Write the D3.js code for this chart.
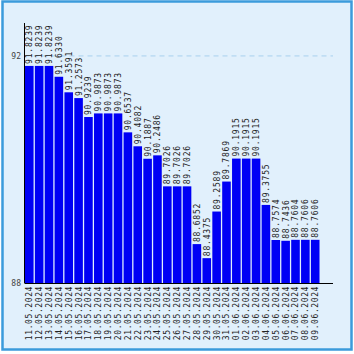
<!DOCTYPE html>
<html><head><meta charset="utf-8">
<script src="https://cdn.jsdelivr.net/npm/d3@7/dist/d3.min.js"></script>
<style>html,body{margin:0;padding:0;background:#fff;}svg{display:block;}</style>
</head><body>
<script>
const dates = ["11.05.2024","12.05.2024","13.05.2024","14.05.2024","15.05.2024","16.05.2024","17.05.2024","18.05.2024","19.05.2024","20.05.2024","21.05.2024","22.05.2024","23.05.2024","24.05.2024","25.05.2024","26.05.2024","27.05.2024","28.05.2024","29.05.2024","30.05.2024","31.05.2024","01.06.2024","02.06.2024","03.06.2024","04.06.2024","05.06.2024","06.06.2024","07.06.2024","08.06.2024","09.06.2024"];
const values = [91.8239,91.8239,91.8239,91.6330,91.3591,91.2573,90.9239,90.9873,90.9873,90.9873,90.6537,90.4082,90.1887,90.2486,89.7026,89.7026,89.7026,88.6852,88.4375,89.2589,89.7869,90.1915,90.1915,90.1915,89.3755,88.7574,88.7436,88.7604,88.7606,88.7606];
const yTicks = [88, 92];
const yDomain = [88, 92.58];

(function () {
const W = 354, H = 354;
const svg = d3.select("body").append("svg").attr("width", W).attr("height", H);
svg.append("rect").attr("x", 2.5).attr("y", 1.5).attr("width", 349).attr("height", 348)
  .attr("fill", "#e1f0fc").attr("stroke", "#3b9bdb").attr("stroke-width", 2.5);

const x0 = 24.5, xAxisEnd = 333, plotTop = 23, base = 283;
const x = d3.scaleBand().domain(dates).range([x0 + 0.5, 319.5]).paddingInner(0.13).paddingOuter(0);
const y = d3.scaleLinear().domain(yDomain).range([base, plotTop]);

const font = "'DejaVu Sans Mono', monospace";

svg.selectAll(".grid").data(yTicks.filter(t => t !== 88)).enter().append("line")
  .attr("x1", x0).attr("x2", xAxisEnd).attr("y1", d => y(d)).attr("y2", d => y(d))
  .attr("stroke", "#a9d1ee").attr("stroke-dasharray", "5,4").attr("stroke-width", 1);

svg.selectAll(".bar").data(values).enter().append("rect")
  .attr("x", (d, i) => x(dates[i]))
  .attr("width", x.bandwidth())
  .attr("y", d => y(d))
  .attr("height", d => base - y(d))
  .attr("fill", "#0000f5");

svg.selectAll(".vl").data(values).enter().append("text")
  .attr("transform", (d, i) => `translate(${x(dates[i]) + x.bandwidth() / 2 + 3},${y(d) - 2}) rotate(-90)`)
  .attr("font-family", font).attr("font-size", 8).attr("letter-spacing", 0.8)
  .attr("fill", "#222").text(d => d.toFixed(4));

svg.append("line").attr("x1", x0).attr("x2", x0).attr("y1", plotTop).attr("y2", base).attr("stroke", "#000");
svg.append("line").attr("x1", x0).attr("x2", xAxisEnd).attr("y1", base + 0.5).attr("y2", base + 0.5).attr("stroke", "#000");

svg.selectAll(".yt").data(yTicks).enter().append("text")
  .attr("x", 21).attr("y", d => y(d) + 3).attr("text-anchor", "end")
  .attr("font-family", font).attr("font-size", 8).attr("fill", "#444").text(d => d);

svg.selectAll(".xl").data(dates).enter().append("text")
  .attr("transform", d => `translate(${x(d) + x.bandwidth() / 2 + 3},${base + 3}) rotate(-90)`)
  .attr("text-anchor", "end")
  .attr("font-family", font).attr("font-size", 8).attr("letter-spacing", 0.6)
  .attr("fill", "#222").text(d => d);
})();
</script>
</body></html>
